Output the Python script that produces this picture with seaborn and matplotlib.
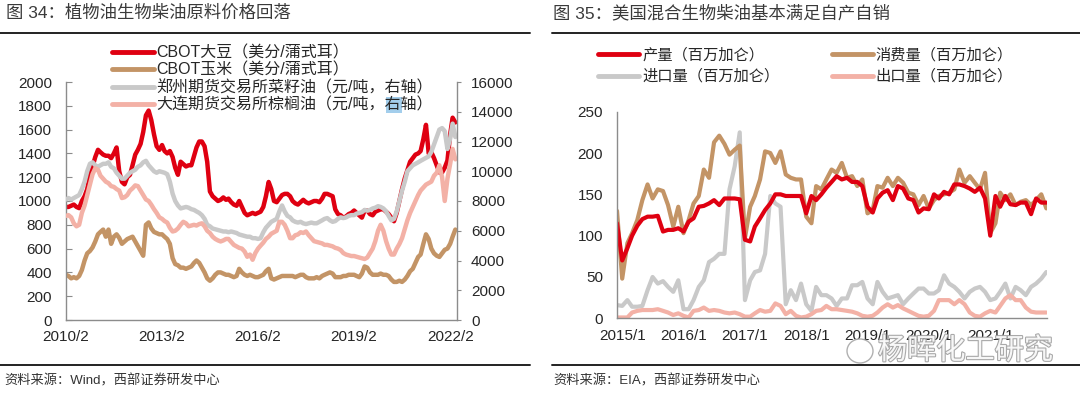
import pandas as pd
import matplotlib
matplotlib.use("Agg")
import matplotlib.pyplot as plt
import matplotlib.patheffects as pe
from matplotlib.lines import Line2D
from matplotlib.patches import Ellipse, Rectangle
import seaborn as sns

sns.set_style("white")
plt.rcParams['font.family'] = ['Liberation Sans', 'Noto Sans CJK SC']
plt.rcParams['axes.unicode_minus'] = False

# ---------------- left chart: monthly, 2010/2 - 2022/4 ----------------
left_dates = pd.date_range("2010-02-01", periods=147, freq="MS")

# CBOT soybean (cents/bushel), left axis
soy = [950, 950, 960, 970, 950, 940, 1000, 1040, 1100, 1220, 1290, 1370,
       1430, 1410, 1390, 1380, 1380, 1360, 1400, 1450, 1250, 1160, 1140, 1200,
       1220, 1300, 1390, 1430, 1480, 1580, 1720, 1760, 1680, 1560, 1460, 1430,
       1470, 1420, 1400, 1420, 1370, 1280, 1220, 1330, 1310, 1290, 1300, 1300,
       1380, 1450, 1500, 1500, 1460, 1330, 1080, 1040, 1020, 1000, 1010, 1030,
       1010, 1020, 990, 970, 960, 1000, 950, 900, 880, 890, 900, 890,
       900, 910, 950, 1040, 1160, 1100, 1000, 990, 1020, 1050, 1060, 1060,
       1040, 1000, 980, 970, 990, 1010, 990, 980, 990, 1000, 1000, 990,
       1020, 1060, 1060, 1050, 1040, 930, 890, 880, 860, 870, 890, 900,
       920, 900, 880, 860, 920, 920, 890, 880, 910, 920, 930, 930,
       910, 890, 860, 830, 900, 1000, 1100, 1190, 1260, 1330, 1360, 1390,
       1400, 1420, 1520, 1640, 1400, 1410, 1360, 1300, 1240, 1240, 1280, 1340, 1560, 1700, 1660]

# CBOT corn (cents/bushel), left axis
corn = [380, 370, 350, 360, 350, 370, 420, 500, 560, 580, 610, 660,
        720, 740, 760, 700, 760, 640, 700, 720, 690, 640, 660, 680,
        690, 700, 660, 620, 580, 540, 800, 820, 770, 740, 730, 720,
        720, 700, 680, 640, 520, 470, 460, 440, 440, 430, 440, 450,
        480, 500, 480, 440, 400, 350, 330, 350, 380, 400, 400, 390,
        380, 380, 370, 360, 370, 430, 400, 380, 370, 380, 370, 360,
        360, 370, 380, 410, 430, 350, 340, 350, 360, 370, 370, 370,
        370, 370, 360, 370, 380, 380, 360, 350, 350, 350, 360, 350,
        370, 380, 390, 400, 390, 360, 360, 360, 370, 370, 380, 380,
        380, 370, 360, 390, 450, 440, 400, 380, 380, 380, 390, 380,
        380, 370, 340, 320, 320, 330, 320, 340, 370, 410, 430, 480,
        530, 550, 640, 720, 680, 600, 560, 540, 530, 560, 590, 600, 640, 700, 760]

# Zhengzhou rapeseed oil (yuan/t), right axis
rapeseed = [8100, 8200, 8100, 8200, 8300, 8400, 8800, 9300, 10000, 10500, 10600, 10400,
            10300, 10400, 10500, 10500, 10600, 10300, 10200, 9900, 9700, 9500, 9500, 9700,
            9900, 10000, 10100, 10300, 10400, 10600, 10700, 10400, 10200, 10000, 9900, 10000,
            9950, 9900, 9800, 9300, 8500, 8000, 7700, 7500, 7550, 7600, 7550, 7450,
            7400, 7300, 7200, 7050, 6800, 6400, 6300, 6150, 6100, 6050, 6000, 5950,
            5950, 5900, 5950, 5900, 5850, 5750, 5700, 5650, 5600, 5600, 5500, 5500,
            5450, 5500, 5900, 6200, 6400, 6600, 6700, 6800, 7300, 7700, 7300, 7000,
            6900, 6700, 6600, 6550, 6600, 6500, 6450, 6500, 6550, 6500, 6500, 6600,
            6700, 6800, 6850, 6700, 6600, 6650, 6800, 6900, 6850, 6900, 7000, 7050,
            7050, 7150, 7200, 7250, 7400, 7350, 7400, 7500, 7550, 7650, 7600, 7500,
            7300, 7000, 6700, 6800, 7300, 8000, 8700, 9300, 10000, 10200, 10400, 10500,
            10600, 10700, 10800, 10900, 11000, 11300, 11800, 12300, 12800, 12900, 12700, 11500, 12200, 13200, 12300]

# Dalian palm oil (yuan/t), right axis
palm = [7000, 7050, 6900, 6500, 6300, 6400, 7200, 7700, 8400, 9100, 9800, 10200,
        10100, 9700, 9500, 9300, 9200, 9000, 8950, 8800, 8700, 8200, 8250, 8400,
        8700, 8850, 9050, 9000, 8700, 8400, 8100, 8000, 7750, 7450, 7200, 6900,
        6800, 6650, 6550, 6200, 5950, 6000, 6150, 6400, 6600, 6500, 6300, 6350,
        6400, 6350, 6450, 6500, 6300, 6000, 5850, 5600, 5450, 5350, 5280, 5350,
        5450, 5450, 5250, 5050, 4950, 4850, 4800, 4600, 4250, 4400, 4050, 4500,
        4800, 5000, 5200, 5450, 5600, 5800, 5900, 6000, 6600, 6600, 6400, 6000,
        5500, 5500, 5700, 5750, 5900, 5850, 5950, 5700, 5500, 5300, 5250, 5200,
        5150, 5050, 5050, 5000, 4950, 4850, 4800, 4700, 4500, 4400, 4350, 4300,
        4300, 4250, 4200, 4150, 4100, 4200, 4500, 4800, 5300, 6000, 6400, 6000,
        5300, 4800, 4400, 4400, 4800, 5100, 5500, 6100, 6700, 7200, 7600, 8000,
        8400, 8700, 8900, 9100, 9200, 9300, 9700, 9900, 10400, 9600, 8000, 9500, 10500, 11500, 10800]

left_labels = ["CBOT大豆（美分/蒲式耳）", "CBOT玉米（美分/蒲式耳）",
               "郑州期货交易所菜籽油（元/吨，右轴）", "大连期货交易所棕榈油（元/吨，右轴）"]
left_ticks = ["2010-02-01", "2013-02-01", "2016-02-01", "2019-02-01", "2022-02-01"]
left_ticklabels = ["2010/2", "2013/2", "2016/2", "2019/2", "2022/2"]

# ---------------- right chart: monthly, 2014/12 - 2021/12 ----------------
right_dates = pd.date_range("2014-12-01", periods=85, freq="MS")

production = [115, 70, 85, 100, 112, 120, 123, 123, 124, 105, 107, 107, 109,
              105, 117, 121, 135, 136, 139, 143, 137, 145, 145, 145, 144,
              95, 93, 111, 121, 131, 139, 150, 150, 148, 148, 148, 148,
              127, 148, 143, 150, 158, 165, 172, 168, 170, 165, 165, 160,
              135, 128, 145, 152, 155, 143, 160, 157, 145, 143, 128, 133,
              132, 150, 145, 153, 150, 162, 162, 160, 157, 153, 158, 145,
              100, 148, 135, 148, 138, 137, 140, 140, 126, 145, 140, 140]

consumption = [130, 48, 91, 103, 119, 143, 162, 145, 156, 154, 137, 111, 135,
               103, 119, 139, 148, 180, 170, 213, 221, 211, 198, 204, 209,
               97, 135, 148, 168, 202, 200, 188, 202, 174, 170, 168, 168,
               123, 115, 160, 156, 168, 180, 176, 188, 170, 172, 160, 168,
               127, 131, 160, 158, 170, 160, 170, 164, 152, 150, 137, 148,
               133, 143, 148, 150, 152, 156, 180, 164, 172, 164, 156, 176,
               103, 115, 152, 143, 150, 137, 141, 143, 137, 143, 150, 133]

imports = [16, 15, 22, 14, 14, 15, 34, 50, 42, 45, 38, 32, 46,
           11, 11, 22, 38, 46, 68, 72, 78, 78, 156, 184, 225,
           22, 46, 56, 58, 78, 148, 139, 135, 17, 34, 22, 42,
           17, 9, 38, 28, 28, 24, 15, 24, 24, 40, 40, 44,
           24, 17, 44, 32, 24, 26, 28, 17, 24, 30, 36, 36,
           30, 30, 34, 52, 42, 38, 32, 24, 32, 36, 38, 32,
           22, 24, 32, 42, 24, 38, 34, 28, 38, 42, 48, 56]

exports = [1, 1, 1, 7, 9, 10, 10, 10, 11, 9, 7, 4, 6,
           3, 1, 9, 10, 13, 9, 10, 9, 7, 6, 7, 5,
           2, 2, 6, 10, 8, 9, 18, 15, 5, 9, 3, 1,
           2, 5, 9, 10, 15, 11, 11, 10, 9, 8, 6, 3,
           2, 3, 7, 13, 17, 13, 16, 12, 9, 6, 3, 2,
           3, 9, 22, 22, 22, 17, 22, 17, 7, 3, 2, 6,
           9, 7, 15, 24, 28, 22, 22, 13, 8, 7, 7, 7]

right_labels = ["产量（百万加仑）", "消费量（百万加仑）", "进口量（百万加仑）", "出口量（百万加仑）"]
right_ticks = ["2015-01-01", "2016-01-01", "2017-01-01", "2018-01-01",
               "2019-01-01", "2020-01-01", "2021-01-01"]
right_ticklabels = ["2015/1", "2016/1", "2017/1", "2018/1", "2019/1", "2020/1", "2021/1"]

RED = "#DF0011"
TAN = "#C39466"
GREY = "#C9C9C9"
PINK = "#F3B1A6"
SPINE = "#8C8C8C"
TXT = "#262626"

df_left = pd.DataFrame({"date": left_dates, "soy": soy, "corn": corn,
                        "rapeseed": rapeseed, "palm": palm})
df_right = pd.DataFrame({"date": right_dates, "production": production,
                         "consumption": consumption, "imports": imports,
                         "exports": exports})

fig = plt.figure(figsize=(10.8, 3.97), dpi=100)

# ---------------- left chart ----------------
ax1 = fig.add_axes([66 / 1080, 1 - 320 / 397, 391 / 1080, 238 / 397])
ax2 = ax1.twinx()
lw_l = 3.2
sns.lineplot(data=df_left, x="date", y="soy", ax=ax1, color=RED, lw=lw_l, legend=False)
sns.lineplot(data=df_left, x="date", y="corn", ax=ax1, color=TAN, lw=lw_l, legend=False)
sns.lineplot(data=df_left, x="date", y="rapeseed", ax=ax2, color=GREY, lw=lw_l, legend=False)
sns.lineplot(data=df_left, x="date", y="palm", ax=ax2, color=PINK, lw=lw_l, legend=False)

ax1.set_ylim(0, 2000)
ax2.set_ylim(0, 16000)
ax1.set_yticks(range(0, 2001, 200))
ax2.set_yticks(range(0, 16001, 2000))
ax1.set_xlim(pd.Timestamp("2010-02-01"), pd.Timestamp("2022-04-20"))
ax1.set_xticks(pd.to_datetime(left_ticks))
ax1.set_xticklabels(left_ticklabels)
for a in (ax1, ax2):
    a.set_xlabel("")
    a.set_ylabel("")
    a.spines["top"].set_visible(False)
    for s in a.spines.values():
        s.set_color(SPINE)
        s.set_linewidth(1.0)
ax1.spines["right"].set_visible(False)
ax2.spines["left"].set_visible(False)
ax2.spines["bottom"].set_visible(False)
ax1.tick_params(axis="y", direction="in", length=4, color=SPINE, pad=10, labelsize=11, labelcolor=TXT)
ax1.tick_params(axis="x", direction="in", length=4, color=SPINE, pad=7, labelsize=11, labelcolor=TXT)
ax2.tick_params(axis="y", direction="out", length=3, color=SPINE, pad=7, labelsize=11, labelcolor=TXT)

handles_l = [Line2D([], [], color=c, lw=3.5) for c in (RED, TAN, GREY, PINK)]
leg_l = fig.legend(handles_l, left_labels, loc="upper left", bbox_to_anchor=(112 / 1080, 1 - 45 / 397),
                   frameon=False, fontsize=11.5, handlelength=2.6, handletextpad=0.2,
                   labelspacing=0.14, borderpad=0, borderaxespad=0, labelcolor=TXT)

# ---------------- right chart ----------------
ax3 = fig.add_axes([617 / 1080, 1 - 318.3 / 397, 430 / 1080, 206.6 / 397])
lw_r = 3.0
sns.lineplot(data=df_right, x="date", y="imports", ax=ax3, color=GREY, lw=lw_r, legend=False)
sns.lineplot(data=df_right, x="date", y="exports", ax=ax3, color=PINK, lw=lw_r, legend=False)
sns.lineplot(data=df_right, x="date", y="consumption", ax=ax3, color=TAN, lw=lw_r, legend=False)
sns.lineplot(data=df_right, x="date", y="production", ax=ax3, color=RED, lw=lw_r, legend=False)
ax3.set_ylim(0, 250)
ax3.set_yticks(range(0, 251, 50))
ax3.set_xlim(pd.Timestamp("2014-12-01"), pd.Timestamp("2021-12-05"))
ax3.set_xticks(pd.to_datetime(right_ticks))
ax3.set_xticklabels(right_ticklabels)
ax3.set_xlabel("")
ax3.set_ylabel("")
ax3.spines["top"].set_visible(False)
ax3.spines["right"].set_visible(False)
for s in ("left", "bottom"):
    ax3.spines[s].set_color(SPINE)
    ax3.spines[s].set_linewidth(1.0)
ax3.tick_params(axis="y", direction="in", length=4, color=SPINE, pad=10, labelsize=11, labelcolor=TXT)
ax3.tick_params(axis="x", direction="in", length=4, color=SPINE, pad=8, labelsize=11, labelcolor=TXT)

handles_r = [Line2D([], [], color=c, lw=3.5) for c in (RED, GREY, TAN, PINK)]
fig.legend(handles_r, [right_labels[0], right_labels[2], right_labels[1], right_labels[3]],
           ncol=2, loc="upper left", bbox_to_anchor=(598 / 1080, 1 - 48 / 397),
           frameon=False, fontsize=11, handlelength=2.7, handletextpad=0.2,
           labelspacing=0.45, columnspacing=3.4, borderpad=0, borderaxespad=0, labelcolor=TXT)

# ---------------- titles, rules, sources ----------------
fig.text(6 / 1080, 1 - 13 / 397, "图 34：植物油生物柴油原料价格回落", fontsize=12.5,
         color="#3a3a3a", va="center", ha="left")
fig.text(553 / 1080, 1 - 13 / 397, "图 35：美国混合生物柴油基本满足自产自销", fontsize=12.5,
         color="#3a3a3a", va="center", ha="left")
for x0, x1 in ((0, 530), (552, 1080)):
    fig.add_artist(Line2D([x0 / 1080, x1 / 1080], [1 - 33 / 397] * 2, color="#222222", lw=1.4))
    fig.add_artist(Line2D([x0 / 1080, x1 / 1080], [1 - 365 / 397] * 2, color="#222222", lw=1.4))
fig.text(4 / 1080, 1 - 381 / 397, "资料来源：Wind，西部证券研发中心", fontsize=9.5,
         color="#333333", va="center", ha="left")
fig.text(553 / 1080, 1 - 381 / 397, "资料来源：EIA，西部证券研发中心", fontsize=9.5,
         color="#333333", va="center", ha="left")

# selection highlight behind "右" in the last left legend entry
fig.canvas.draw()
bb = leg_l.get_texts()[3].get_window_extent()
em = bb.width / 17.5
fig.add_artist(Rectangle(((bb.x1 - 3 * em) / 1080, bb.y0 / 397), em / 1080, bb.height / 397,
                         transform=fig.transFigure, facecolor="#8CC2E8", edgecolor="none",
                         alpha=0.8, zorder=4))

# watermark
fig.add_artist(Ellipse((860 / 1080, 1 - 351 / 397), 26 / 1080, 24 / 397, transform=fig.transFigure,
                       facecolor="white", edgecolor="#a8a8a8", lw=1.0, alpha=0.9, zorder=10))
wm = fig.text(878 / 1080, 1 - 351 / 397, "杨晖化工研究", fontsize=21, color="white",
              va="center", ha="left", alpha=0.9, zorder=11)
wm.set_path_effects([pe.withStroke(linewidth=1.6, foreground="#a0a0a0")])

fig.savefig("out.png", dpi=100)
